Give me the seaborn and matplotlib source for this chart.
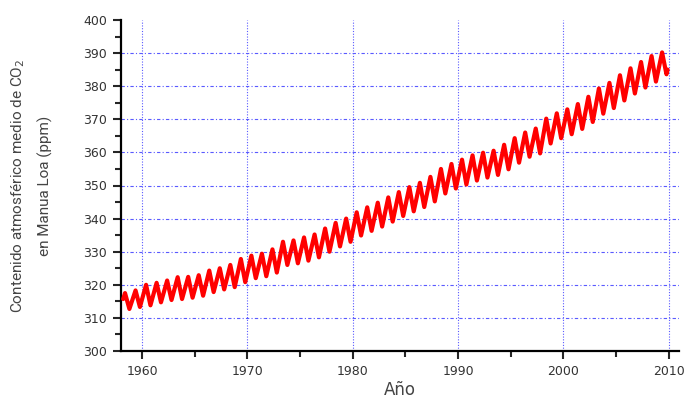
import matplotlib
matplotlib.use("Agg")
import matplotlib.pyplot as plt
from matplotlib import font_manager
from matplotlib.ticker import MultipleLocator
import seaborn as sns

# Mauna Loa CO2: seasonal maximum (May) and minimum (Oct) per year
years = list(range(1958, 2010))
peaks = [317.5, 318.3, 320.0, 320.6, 321.3, 322.3, 322.4, 322.9, 324.3, 325.0,
         326.0, 327.8, 328.8, 329.4, 330.7, 333.0, 333.4, 334.3, 335.2, 337.0,
         338.7, 340.0, 341.9, 343.4, 344.8, 346.4, 348.0, 349.5, 350.8, 352.6,
         355.0, 356.5, 357.8, 359.1, 359.9, 360.5, 362.3, 364.3, 366.0, 367.2,
         370.2, 371.8, 373.0, 374.6, 376.8, 379.3, 381.0, 383.3, 385.4, 387.3,
         389.1, 390.2]
troughs = [312.7, 313.3, 313.8, 314.7, 315.4, 315.7, 316.1, 316.7, 317.8, 318.6,
           319.3, 320.8, 322.0, 322.6, 323.7, 326.0, 326.5, 327.3, 328.3, 330.0,
           331.6, 333.0, 334.9, 336.3, 337.6, 339.1, 340.8, 342.2, 343.5, 345.2,
           347.6, 349.1, 350.3, 351.5, 352.4, 353.2, 354.9, 356.9, 358.7, 359.7,
           362.7, 364.3, 365.5, 367.1, 369.2, 371.7, 373.4, 375.7, 377.8, 379.6,
           381.4, 383.6]
first_point = (1958.2, 315.7)
last_point = (2009.9, 385.0)

t = [first_point[0]]
co2 = [first_point[1]]
for yr, p, tr in zip(years, peaks, troughs):
    t += [yr + 0.375, yr + 0.79]
    co2 += [p, tr]
t.append(last_point[0])
co2.append(last_point[1])

sns.set_style("white")
names = {f.name for f in font_manager.fontManager.ttflist}
label_font = "Liberation Sans Narrow" if "Liberation Sans Narrow" in names else "Roboto"
plt.rcParams["font.family"] = ["DejaVu Sans"]

fig = plt.figure(figsize=(6.84, 4.0), dpi=100)
ax = fig.add_axes([0.177, 0.1225, 0.816, 0.8275])

sns.lineplot(x=t, y=co2, color="red", linewidth=3.0, ax=ax, zorder=3)
ax.lines[-1].set_solid_joinstyle("round")
ax.lines[-1].set_solid_capstyle("round")

ax.set_xlim(1958, 2011)
ax.set_ylim(300, 400)
ax.xaxis.set_major_locator(MultipleLocator(10))
ax.xaxis.set_minor_locator(MultipleLocator(5))
ax.yaxis.set_major_locator(MultipleLocator(10))
ax.yaxis.set_minor_locator(MultipleLocator(5))

ax.xaxis.grid(True, color="#5a5aff", linestyle=(0, (1, 1.5)), linewidth=0.8)
ax.yaxis.grid(True, color="#5a5aff", linestyle=(0, (3, 2, 1, 2)), linewidth=0.8)
ax.set_axisbelow(True)
fig.canvas.draw()
for gl, v in zip(ax.yaxis.get_gridlines(), ax.get_yticks()):
    if v >= 400:
        gl.set_visible(False)

for side in ["top", "right"]:
    ax.spines[side].set_visible(False)
for side in ["left", "bottom"]:
    ax.spines[side].set_linewidth(1.6)
    ax.spines[side].set_color("black")

ax.tick_params(which="major", direction="out", length=6, width=1.5,
               labelsize=9, labelcolor="#333333", pad=4)
ax.tick_params(which="minor", direction="out", length=4, width=1.5)
ax.tick_params(axis="x", which="both", bottom=True)
ax.tick_params(axis="y", which="both", left=True)

ax.set_xlabel("Año", fontsize=12, color="#444444", labelpad=2)
ax.set_ylabel("Contenido atmosférico medio de CO$_2$\nen Manua Loa (ppm)",
              fontsize=11, color="#444444", family=label_font,
              linespacing=1.9, labelpad=22)

fig.savefig("out.png", dpi=100)
